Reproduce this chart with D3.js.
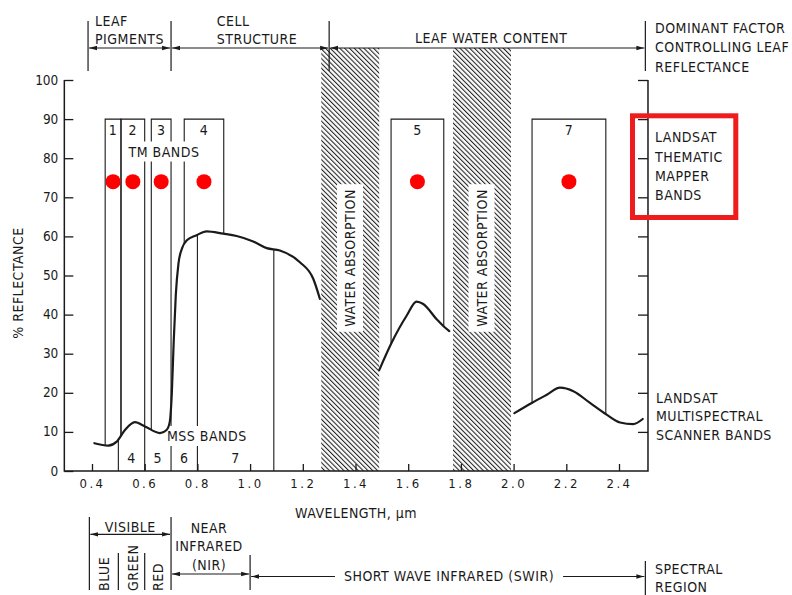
<!DOCTYPE html>
<html>
<head>
<meta charset="utf-8">
<script src="https://cdn.jsdelivr.net/npm/d3@7"></script>
<style>
  html, body { margin: 0; padding: 0; background: #fff; }
  svg { display: block; }
  text {
    font-family: 'DejaVu Sans Condensed', 'DejaVu Sans', sans-serif;
    font-stretch: condensed;
    fill: #1a1a1a;
    font-size: 14px;
    letter-spacing: 0.5px;
  }
</style>
</head>
<body>
<svg id="chart" width="792" height="595"></svg>
<script>
// ---- Leaf reflectance curve (wavelength in µm, reflectance in %) ----
// visible + near infrared, up to the 1.4 µm water band
const visNirWavelength  = [0.409, 0.462, 0.494, 0.525, 0.563, 0.601, 0.658, 0.683, 0.695, 0.703, 0.710, 0.718, 0.728, 0.742, 0.760, 0.797, 0.835, 0.898, 0.949, 1.012, 1.063, 1.113, 1.189, 1.240, 1.265];
const visNirReflectance = [7.1,   6.5,   7.5,   10.5,  12.5,  11.4,  9.7,   10.5,  12.5,  20,    33,    45,    53,    57,    59,    60.3,  61.3,  60.7,  60.1,  58.7,  57.0,  56.4,  53.4,  49.1,  44.0];
// between the two water absorption bands
const swir1Wavelength  = [1.490, 1.537, 1.594, 1.632, 1.657, 1.708, 1.733, 1.756];
const swir1Reflectance = [25.8,  32.8,  39.7,  43.3,  42.7,  38.8,  37.1,  35.8];
// beyond 2.0 µm
const swir2Wavelength  = [2.003, 2.069, 2.126, 2.176, 2.227, 2.290, 2.353, 2.404, 2.454, 2.490];
const swir2Reflectance = [14.8,  17.4,  19.5,  21.3,  20.4,  17.4,  14.4,  12.4,  12.0,  13.3];

// ---- Landsat Thematic Mapper bands ----
const tmBandIds = ["1", "2", "3", "4", "5", "7"];
const tmBandLo  = [0.45, 0.51, 0.625, 0.75, 1.535, 2.07];
const tmBandHi  = [0.51, 0.60, 0.70, 0.90, 1.735, 2.35];
const tmBandTop = 90;        // % level of the band boxes
const tmMarkerLevel = 74;    // % level of the red band markers

// ---- Landsat MSS bands ----
const mssBandIds = ["4", "5", "6", "7"];
const mssBandLo  = [0.5, 0.6, 0.7, 0.8];
const mssBandHi  = [0.6, 0.7, 0.8, 1.09];

// ---- Water absorption bands ----
const waterLo = [1.27, 1.77];
const waterHi = [1.49, 1.99];

// ---- Axis ticks ----
const xTicks = [0.4, 0.6, 0.8, 1.0, 1.2, 1.4, 1.6, 1.8, 2.0, 2.2, 2.4];
const yTicks = [0, 10, 20, 30, 40, 50, 60, 70, 80, 90, 100];
const xAxisMin = 0.295, xAxisMax = 2.51;

// ---- Dominant factor (header) and spectral regions (footer) ----
const factorBounds = [0.385, 0.70, 1.30, 2.50];
const factorLabels = [["LEAF", "PIGMENTS"], ["CELL", "STRUCTURE"], ["LEAF WATER CONTENT"]];
const regionBounds = [0.39, 0.70, 1.00, 2.50];
const regionLabels = [["VISIBLE"], ["NEAR", "INFRARED", "(NIR)"], ["SHORT WAVE INFRARED (SWIR)"]];
const colorBounds = [0.5, 0.6];
const colorNames = ["BLUE", "GREEN", "RED"];

const ink = "#1a1a1a";
const svg = d3.select("#chart");

const x = d3.scaleLinear().domain([0.4, 2.4]).range([92, 619]);
const y = d3.scaleLinear().domain([0, 100]).range([471, 80]);

// defs: hatch and arrowheads
const defs = svg.append("defs");
const hatch = defs.append("pattern")
  .attr("id", "hatch").attr("patternUnits", "userSpaceOnUse")
  .attr("width", 3.4).attr("height", 3.4)
  .attr("patternTransform", "rotate(45)");
hatch.append("line").attr("x1", 0).attr("y1", 1.2).attr("x2", 3.4).attr("y2", 1.2)
  .attr("stroke", "#222").attr("stroke-width", 1.1);

defs.append("marker")
  .attr("id", "arrow").attr("viewBox", "0 0 8 6")
  .attr("refX", 8).attr("refY", 3)
  .attr("markerWidth", 8).attr("markerHeight", 6)
  .attr("markerUnits", "userSpaceOnUse")
  .attr("orient", "auto-start-reverse")
  .append("path").attr("d", "M0,0.8L8,3L0,5.2Z").attr("fill", ink);

function arrowLine(g, x1, x2, yy) {
  g.append("line").attr("x1", x1).attr("x2", x2).attr("y1", yy).attr("y2", yy)
    .attr("stroke", ink).attr("stroke-width", 1.2)
    .attr("marker-start", "url(#arrow)").attr("marker-end", "url(#arrow)");
}

// ---- water absorption hatching ----
const waterG = svg.append("g");
waterLo.forEach((lo, i) => {
  waterG.append("rect")
    .attr("x", x(lo)).attr("width", x(waterHi[i]) - x(lo))
    .attr("y", 48).attr("height", y(0) - 48)
    .attr("fill", "url(#hatch)");
});

// ---- header: dominant factor ----
const head = svg.append("g");
factorBounds.forEach(b => {
  head.append("line").attr("x1", x(b)).attr("x2", x(b)).attr("y1", 21).attr("y2", 71)
    .attr("stroke", ink).attr("stroke-width", 1.2);
});
for (let i = 0; i < 3; i++) arrowLine(head, x(factorBounds[i]) + 1, x(factorBounds[i + 1]) - 1, 48);
const factorTextX = [95, 216.7, 415];
factorLabels.forEach((lines, i) => {
  lines.forEach((t, j) => {
    head.append("text").attr("x", factorTextX[i])
      .attr("y", lines.length === 1 ? 43.3 : 26 + j * 18.3).text(t);
  });
});
["DOMINANT FACTOR", "CONTROLLING LEAF", "REFLECTANCE"].forEach((t, j) => {
  head.append("text").attr("x", 655).attr("y", 33 + j * 19.3).text(t);
});

// ---- leaf reflectance curve ----
const segs = [
  d3.zip(visNirWavelength, visNirReflectance),
  d3.zip(swir1Wavelength, swir1Reflectance),
  d3.zip(swir2Wavelength, swir2Reflectance)
];
const line = d3.line().x(d => x(d[0])).y(d => y(d[1])).curve(d3.curveMonotoneX);

// build the paths first so band lines can end on the curve
const curveG = svg.append("g");
const curvePaths = segs.map(s => curveG.append("path").attr("d", line(s))
  .attr("fill", "none").attr("stroke", ink).attr("stroke-width", 2.2)
  .attr("stroke-linejoin", "round").attr("stroke-linecap", "round").node());

function curveY(w) {
  const px = x(w);
  let k = segs.findIndex(s => w >= s[0][0] && w <= s[s.length - 1][0]);
  if (k < 0) return y(0);
  const node = curvePaths[k];
  let lo = 0, hi = node.getTotalLength();
  for (let i = 0; i < 40; i++) {
    const mid = (lo + hi) / 2;
    if (node.getPointAtLength(mid).x < px) lo = mid; else hi = mid;
  }
  return node.getPointAtLength(lo).y;
}

// ---- band lines (below the curve layer) ----
const bandG = svg.insert("g", () => curveG.node());
tmBandIds.forEach((id, i) => {
  const x0 = x(tmBandLo[i]), x1 = x(tmBandHi[i]), yt = y(tmBandTop);
  bandG.append("path")
    .attr("d", `M${x0},${curveY(tmBandLo[i])}V${yt}H${x1}V${curveY(tmBandHi[i])}`)
    .attr("fill", "none").attr("stroke", ink).attr("stroke-width", 1.1);
});
const mssEdges = Array.from(new Set(mssBandLo.concat(mssBandHi)));
mssEdges.forEach(b => {
  bandG.append("line").attr("x1", x(b)).attr("x2", x(b))
    .attr("y1", curveY(b)).attr("y2", y(0))
    .attr("stroke", ink).attr("stroke-width", 1.1);
});

// ---- white label boxes over lines ----
const labelG = svg.append("g");
function boxedText(g, t, xx, yy, opts = {}) {
  const txt = g.append("text").attr("x", xx).attr("y", yy).text(t)
    .attr("text-anchor", opts.anchor || "start");
  if (opts.rotate) txt.attr("transform", `rotate(-90,${xx},${yy})`);
  const bb = txt.node().getBBox();
  const pad = opts.pad || 2;
  let r;
  if (opts.rotate) {
    // bbox is in local (unrotated) coordinates; convert
    r = { x: xx + (bb.y - yy) - pad, y: yy - (bb.x + bb.width - xx) - pad,
          w: bb.height + 2 * pad, h: bb.width + 2 * pad };
  } else {
    r = { x: bb.x - pad, y: bb.y - pad, w: bb.width + 2 * pad, h: bb.height + 2 * pad };
  }
  g.insert("rect", () => txt.node())
    .attr("x", r.x).attr("y", r.y).attr("width", r.w).attr("height", r.h)
    .attr("fill", "#fff");
  return txt;
}
// place under the curve so the curve stays visible
const backG = svg.insert("g", () => curveG.node());
boxedText(backG, "TM BANDS", 128.5, 156.5, { pad: 2 });
boxedText(backG, "MSS BANDS", 167, 441, { pad: 2 }).attr("letter-spacing", "1.2px");
waterLo.forEach((lo, i) => {
  const cx = [355, 486.5][i];
  boxedText(backG, "WATER ABSORPTION", cx, 258, { anchor: "middle", rotate: true, pad: 5 });
});

// TM band numbers and markers
tmBandIds.forEach((id, i) => {
  const c = (tmBandLo[i] + tmBandHi[i]) / 2;
  labelG.append("text").attr("x", x(c)).attr("y", 135).attr("text-anchor", "middle").text(id);
  labelG.append("circle").attr("cx", x(c)).attr("cy", y(tmMarkerLevel)).attr("r", 7.5).attr("fill", "#ff0000");
});
// MSS band numbers
mssBandIds.forEach((id, i) => {
  const c = (mssBandLo[i] + mssBandHi[i]) / 2;
  labelG.append("text").attr("x", x(c)).attr("y", 462.5).attr("text-anchor", "middle").text(id);
});

// ---- axes frame ----
const frame = svg.append("g").attr("stroke", ink).attr("fill", "none").attr("stroke-width", 1.5);
frame.append("path").attr("d",
  `M${x(xAxisMin)},${y(100)}V${y(0)}H${x(xAxisMax)}V${y(100)}`);

const yAxisL = svg.append("g").attr("transform", `translate(${x(xAxisMin)},0)`)
  .call(d3.axisLeft(y).tickValues(yTicks).tickSize(-9).tickPadding(6));
yAxisL.select(".domain").remove();
yAxisL.selectAll("line").attr("stroke", ink).attr("stroke-width", 1.3);
yAxisL.selectAll("text").attr("font-size", null).attr("font-family", null)
  .style("font-size", "13.5px").style("letter-spacing", "0px").attr("dy", "0.3em");
yAxisL.attr("font-size", null).attr("font-family", null);

const yAxisR = svg.append("g").attr("transform", `translate(${x(xAxisMax)},0)`)
  .call(d3.axisRight(y).tickValues(yTicks.slice(1)).tickSize(-10).tickFormat(""));
yAxisR.select(".domain").remove();
yAxisR.selectAll("line").attr("stroke", ink).attr("stroke-width", 1.3);

const xAxis = svg.append("g").attr("transform", `translate(0,${y(0)})`)
  .call(d3.axisBottom(x).tickValues(xTicks).tickSize(-7).tickPadding(8).tickFormat(d3.format(".1f")));
xAxis.select(".domain").remove();
xAxis.selectAll("line").attr("stroke", ink).attr("stroke-width", 1.3);
xAxis.attr("font-size", null).attr("font-family", null);
xAxis.selectAll("text").style("font-size", "13px").style("letter-spacing", "2.5px");

// axis titles
svg.append("text").attr("x", 295).attr("y", 518).text("WAVELENGTH, \u03bcm");
svg.append("text").attr("transform", "translate(23,283) rotate(-90)")
  .attr("text-anchor", "middle").text("% REFLECTANCE");

// right-hand annotations
["LANDSAT", "THEMATIC", "MAPPER", "BANDS"].forEach((t, j) => {
  svg.append("text").attr("x", 655).attr("y", 142.3 + j * 19.2).text(t);
});
["LANDSAT", "MULTISPECTRAL", "SCANNER BANDS"].forEach((t, j) => {
  svg.append("text").attr("x", 656).attr("y", 402.7 + j * 18.7).text(t);
});
svg.append("rect").attr("x", 632.5).attr("y", 115.8).attr("width", 103.3).attr("height", 101.7)
  .attr("fill", "none").attr("stroke", "#ee1c1c").attr("stroke-width", 5);

// ---- footer: spectral regions ----
const foot = svg.append("g");
const rb = regionBounds.map(x);
foot.append("line").attr("x1", rb[0]).attr("x2", rb[0]).attr("y1", 517).attr("y2", 590).attr("stroke", ink).attr("stroke-width", 1.2);
foot.append("line").attr("x1", rb[1]).attr("x2", rb[1]).attr("y1", 517).attr("y2", 590).attr("stroke", ink).attr("stroke-width", 1.2);
foot.append("line").attr("x1", rb[2]).attr("x2", rb[2]).attr("y1", 555).attr("y2", 590).attr("stroke", ink).attr("stroke-width", 1.2);
foot.append("line").attr("x1", rb[3]).attr("x2", rb[3]).attr("y1", 561).attr("y2", 595).attr("stroke", ink).attr("stroke-width", 1.2);
colorBounds.forEach(b => {
  foot.append("line").attr("x1", x(b)).attr("x2", x(b)).attr("y1", 553).attr("y2", 590).attr("stroke", ink).attr("stroke-width", 1.2);
});
arrowLine(foot, rb[0] + 1, rb[1] - 1, 534.3);
arrowLine(foot, rb[1] + 1, rb[2] - 1, 574);
arrowLine(foot, rb[2] + 1, rb[3] - 1, 576.5);

foot.append("text").attr("x", (rb[0] + rb[1]) / 2).attr("y", 531.5).attr("text-anchor", "middle").text(regionLabels[0][0]);
regionLabels[1].forEach((t, j) => {
  foot.append("text").attr("x", 209).attr("y", 532.7 + j * 18.5).attr("text-anchor", "middle").text(t);
});
boxedText(foot, regionLabels[2][0], 449, 581, { anchor: "middle", pad: 9 });
const colorRight = [108.5, 137.5, 163];
colorNames.forEach((t, i) => {
  foot.append("text").attr("transform", `translate(${colorRight[i]},591) rotate(-90)`).text(t);
});
["SPECTRAL", "REGION"].forEach((t, j) => {
  foot.append("text").attr("x", 655).attr("y", 574 + j * 17.7).text(t);
});
</script>
</body>
</html>
